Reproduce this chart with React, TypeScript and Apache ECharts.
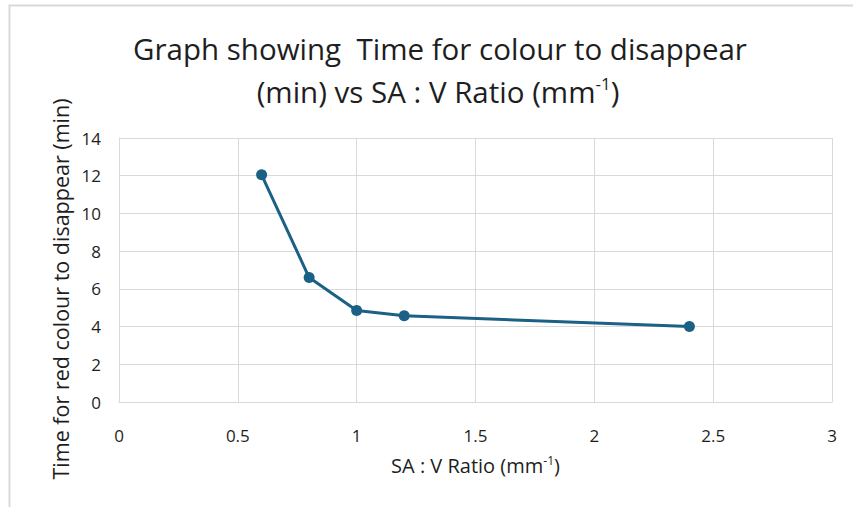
import React, { useEffect, useRef } from "react";
import * as echarts from "echarts";

const ratioValues = [0.6, 0.8, 1.0, 1.2, 2.4];
const timeValues = [12.05, 6.6, 4.85, 4.57, 4.0];
const titleLine1 = "Graph showing  Time for colour to disappear";
const titleLine2 = "(min) vs SA : V Ratio (mm";
const xAxisName = "SA : V Ratio (mm";
const yAxisName = "Time for red colour to disappear (min)";

const FONT = "'Open Sans', 'Noto Sans', sans-serif";
const TEXT = "#1e1e1e";

export default function App() {
  const ref = useRef<HTMLDivElement>(null);
  useEffect(() => {
    if (!ref.current) return;
    const chart = echarts.init(ref.current, undefined, { renderer: "svg" });
    chart.setOption({
      animation: false,
      backgroundColor: "#ffffff",
      grid: { left: 119, right: 21, top: 138, bottom: 105 },
      xAxis: {
        type: "value",
        min: 0,
        max: 3,
        interval: 0.5,
        name: `${xAxisName}{sup|-1}{n|)}`,
        nameLocation: "middle",
        nameGap: 52,
        nameTextStyle: {
          fontFamily: FONT,
          fontSize: 20,
          color: TEXT,
          rich: {
            sup: { fontFamily: FONT, fontSize: 12, padding: [0, 0, 10, 0], color: TEXT },
            n: { fontFamily: FONT, fontSize: 20, color: TEXT },
          },
        },
        axisLine: { show: true, lineStyle: { color: "#d9d9d9", width: 1 } },
        axisTick: { show: false },
        axisLabel: { fontFamily: FONT, fontSize: 17, color: TEXT, margin: 25 },
        splitLine: { show: true, lineStyle: { color: "#d9d9d9", width: 1 } },
      },
      yAxis: {
        type: "value",
        min: 0,
        max: 14,
        interval: 2,
        axisLine: { show: true, lineStyle: { color: "#d9d9d9", width: 1 } },
        axisTick: { show: false },
        axisLabel: { fontFamily: FONT, fontSize: 17, color: TEXT, margin: 18 },
        splitLine: { show: true, lineStyle: { color: "#d9d9d9", width: 1 } },
      },
      graphic: [
        {
          type: "rect",
          shape: { x: 9.5, y: 5.5, width: 900, height: 600 },
          style: { fill: "none", stroke: "#d9d9d9", lineWidth: 2 },
          silent: true,
        },
        {
          type: "text",
          x: 440,
          y: 48,
          style: {
            text: titleLine1,
            fontFamily: FONT,
            fontSize: 29.5,
            fill: TEXT,
            align: "center",
            verticalAlign: "middle",
          },
        },
        {
          type: "text",
          x: 438,
          y: 91,
          style: {
            text: `{n|${titleLine2}}{sup|-1}{n|)}`,
            align: "center",
            verticalAlign: "middle",
            rich: {
              n: { fontFamily: FONT, fontSize: 29.5, fill: TEXT, color: TEXT },
              sup: { fontFamily: FONT, fontSize: 17, fill: TEXT, color: TEXT, padding: [0, 0, 15, 0] },
            },
          },
        },
        {
          type: "text",
          x: 60,
          y: 289,
          rotation: Math.PI / 2,
          style: {
            text: yAxisName,
            fontFamily: FONT,
            fontSize: 21.5,
            fill: TEXT,
            align: "center",
            verticalAlign: "middle",
          },
        },
      ],
      series: [
        {
          type: "line",
          data: ratioValues.map((x, i) => [x, timeValues[i]]),
          symbol: "circle",
          symbolSize: 11,
          itemStyle: { color: "#1a6185" },
          lineStyle: { color: "#1a6185", width: 3 },
        },
      ],
    });
    return () => chart.dispose();
  }, []);
  return (
    <div
      ref={ref}
      style={{ position: "fixed", left: 0, top: 0, width: 853, height: 507 }}
    />
  );
}
